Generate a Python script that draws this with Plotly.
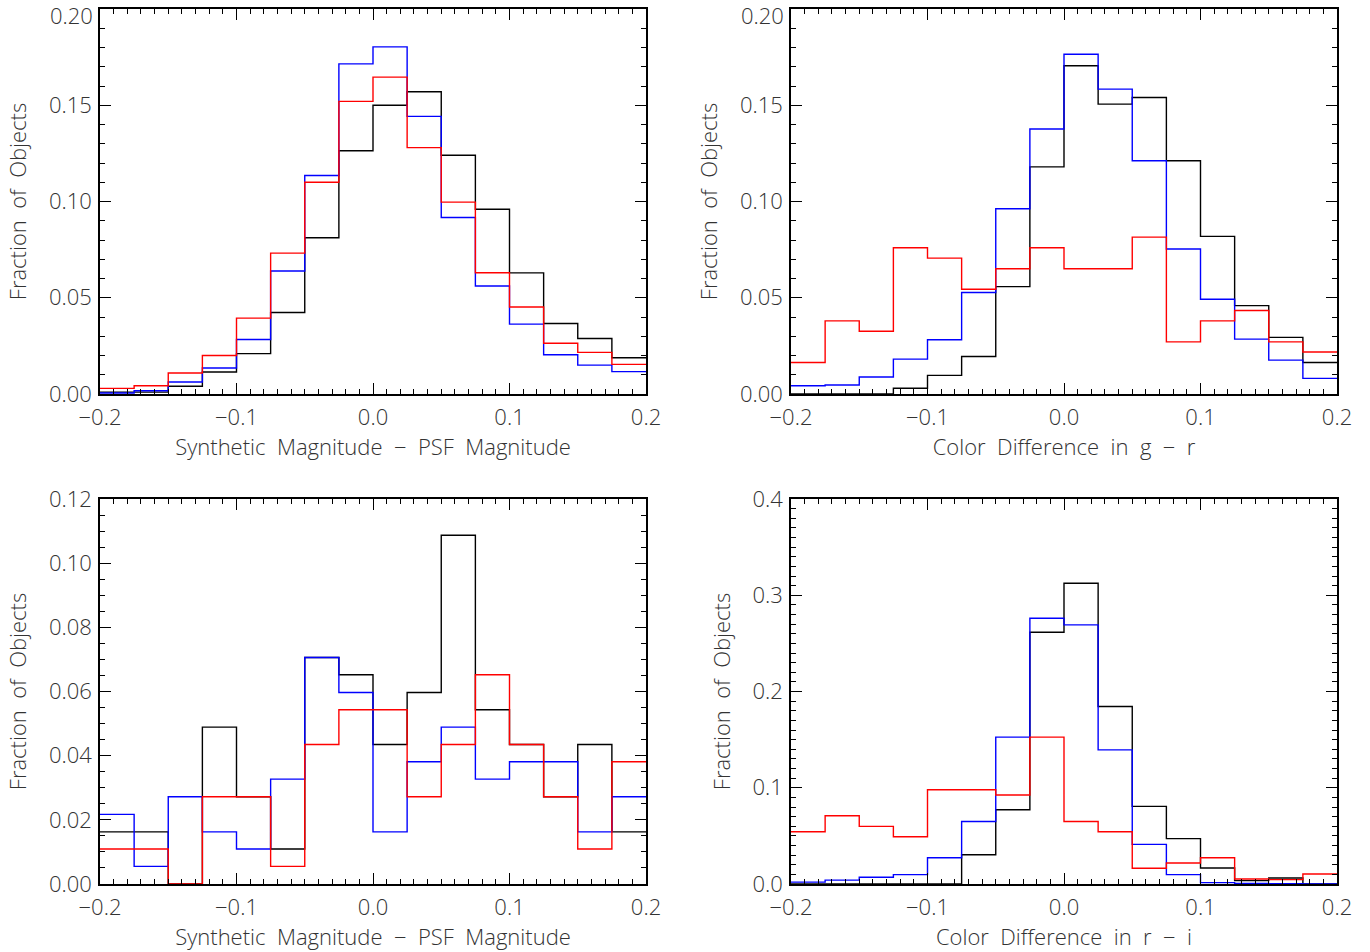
import plotly.graph_objects as go

# bin edges (width 0.025) shared by all panels
bin_edges = [-0.2, -0.175, -0.15, -0.125, -0.1, -0.075, -0.05, -0.025, 0.0,
             0.025, 0.05, 0.075, 0.1, 0.125, 0.15, 0.175, 0.2]

# Panel 1: Synthetic Magnitude - PSF Magnitude (top-left)
p1_black = [0.001, 0.001, 0.004, 0.0114, 0.021, 0.0423, 0.0812, 0.1264,
            0.150, 0.157, 0.124, 0.096, 0.0629, 0.0366, 0.0288, 0.0188]
p1_blue = [0.0005, 0.0017, 0.0062, 0.0135, 0.0283, 0.0639, 0.1135, 0.1715,
           0.1803, 0.1442, 0.0917, 0.0561, 0.0363, 0.0204, 0.015, 0.0116]
p1_red = [0.0029, 0.0043, 0.0109, 0.020, 0.0394, 0.0732, 0.110, 0.152,
          0.1646, 0.128, 0.0997, 0.063, 0.0452, 0.0264, 0.0216, 0.0154]

# Panel 2: Color Difference in g - r (top-right)
p2_black = [0.0, 0.0, 0.0, 0.003, 0.0097, 0.0195, 0.0558, 0.118,
            0.1705, 0.1506, 0.154, 0.1212, 0.0819, 0.0459, 0.0294, 0.0164]
p2_blue = [0.0043, 0.0047, 0.0088, 0.0181, 0.0282, 0.0527, 0.0962, 0.1377,
           0.1765, 0.1584, 0.1212, 0.0753, 0.0492, 0.0285, 0.0176, 0.0081]
p2_red = [0.0164, 0.038, 0.0326, 0.076, 0.0706, 0.0544, 0.0651, 0.076,
          0.0651, 0.0651, 0.0815, 0.0271, 0.038, 0.0434, 0.0271, 0.0218]

# Panel 3: Synthetic Magnitude - PSF Magnitude (bottom-left)
p3_black = [0.01625, 0.01625, 0.0, 0.0489, 0.0272, 0.0109, 0.0706, 0.0652,
            0.0435, 0.0597, 0.1087, 0.0543, 0.0435, 0.0272, 0.0435, 0.01625]
p3_blue = [0.0217, 0.0055, 0.0272, 0.01625, 0.0109, 0.0327, 0.0706, 0.0597,
           0.01625, 0.0381, 0.0489, 0.0327, 0.0381, 0.0381, 0.01625, 0.0272]
p3_red = [0.0109, 0.0109, 0.0, 0.0272, 0.0272, 0.0055, 0.0435, 0.0543,
          0.0543, 0.0272, 0.0435, 0.0652, 0.0435, 0.0272, 0.0109, 0.0381]

# Panel 4: Color Difference in r - i (bottom-right)
p4_black = [0.0, 0.0, 0.0, 0.0, 0.0, 0.0304, 0.0772, 0.2616,
            0.3125, 0.1844, 0.0806, 0.0471, 0.0166, 0.0035, 0.0062, 0.0]
p4_blue = [0.002, 0.004, 0.007, 0.0097, 0.0273, 0.065, 0.1526, 0.2761,
           0.2692, 0.1394, 0.0412, 0.0097, 0.0014, 0.0007, 0.0003, 0.0]
p4_red = [0.0543, 0.0709, 0.0599, 0.0491, 0.0979, 0.0979, 0.0924, 0.1526,
          0.065, 0.0543, 0.0163, 0.0218, 0.0273, 0.0052, 0.0045, 0.0104]

x_ticks = [-0.2, -0.1, 0.0, 0.1, 0.2]
y_ticks_a = [0.0, 0.05, 0.10, 0.15, 0.20]
y_labels_a = ["0.00", "0.05", "0.10", "0.15", ""]   # top label placed below
y_ticks_b = [0.0, 0.02, 0.04, 0.06, 0.08, 0.10, 0.12]
y_labels_b = ["0.00", "0.02", "0.04", "0.06", "0.08", "0.10", "0.12"]
y_ticks_c = [0.0, 0.1, 0.2, 0.3, 0.4]
y_labels_c = ["0.0", "0.1", "0.2", "0.3", "0.4"]
top_label_a = "0.20"

x_titles = ["Synthetic  Magnitude  \u2212  PSF  Magnitude",
            "Color  Difference  in  g  \u2212  r",
            "Synthetic  Magnitude  \u2212  PSF  Magnitude",
            "Color  Difference  in  r  \u2212  i"]
y_title = "Fraction  of  Objects"

panels = [
    (p1_black, p1_blue, p1_red),
    (p2_black, p2_blue, p2_red),
    (p3_black, p3_blue, p3_red),
    (p4_black, p4_blue, p4_red),
]
y_ranges = [[0, 0.2], [0, 0.2], [0, 0.12], [0, 0.4]]
y_tickvals = [y_ticks_a, y_ticks_a, y_ticks_b, y_ticks_c]
y_ticktext = [y_labels_a, y_labels_a, y_labels_b, y_labels_c]
y_minor = [0.01, 0.01, 0.005, 0.01]

W, H = 1370, 952


def xd(a, b):
    return [a / W, b / W]


def yd(top, bot):
    return [1 - bot / H, 1 - top / H]


x_domains = [xd(100, 646), xd(791, 1337), xd(100, 646), xd(791, 1337)]
y_domains = [yd(9, 394), yd(9, 394), yd(499, 884), yd(499, 884)]

FONT = "Open Sans"
TXT = "#333333"
colors = ["#000000", "#0000ff", "#ff0000"]
tick_font = dict(family=FONT, size=22, color=TXT, weight=300)

fig = go.Figure()
layout = {}
annotations = []
for i, series in enumerate(panels):
    n = "" if i == 0 else str(i + 1)
    for vals, col in zip(series, colors):
        fig.add_trace(go.Scatter(
            x=bin_edges, y=list(vals) + [vals[-1]],
            mode="lines", line=dict(color=col, width=1.4, shape="hv"),
            xaxis="x" + n, yaxis="y" + n, showlegend=False,
            hoverinfo="skip"))
    layout["xaxis" + n] = dict(
        domain=x_domains[i], range=[-0.2, 0.2], anchor="y" + n,
        tickvals=x_ticks, tickformat=".1f",
        ticks="inside", ticklen=11, tickwidth=1.3, tickcolor="#000",
        ticklabelstandoff=3, ticklabeloverflow="allow",
        minor=dict(dtick=0.01, tick0=0, ticks="inside", ticklen=5,
                   tickwidth=1.2, tickcolor="#000", showgrid=False),
        showline=True, linecolor="#000", linewidth=1.6, mirror="allticks",
        showgrid=False, zeroline=False, automargin=False,
        tickfont=tick_font,
        title=dict(text=x_titles[i], standoff=3,
                   font=dict(family=FONT, size=22, color=TXT, weight=300)),
    )
    layout["yaxis" + n] = dict(
        domain=y_domains[i], range=y_ranges[i], anchor="x" + n,
        tickvals=y_tickvals[i], ticktext=y_ticktext[i],
        ticks="inside", ticklen=11, tickwidth=1.3, tickcolor="#000",
        ticklabelstandoff=2, ticklabeloverflow="allow",
        minor=dict(dtick=y_minor[i], tick0=0, ticks="inside", ticklen=5,
                   tickwidth=1.2, tickcolor="#000", showgrid=False),
        showline=True, linecolor="#000", linewidth=1.6, mirror="allticks",
        showgrid=False, zeroline=False, automargin=False,
        tickfont=tick_font,
        title=dict(text=y_title, standoff=16,
                   font=dict(family=FONT, size=22, color=TXT, weight=300)),
    )
    if i < 2:
        annotations.append(dict(
            text=top_label_a, xref="x" + n + " domain", yref="y" + n,
            x=0, y=y_ranges[i][1], xanchor="right", yanchor="middle",
            xshift=-5, yshift=-6, showarrow=False, font=tick_font))

fig.update_layout(
    width=W, height=H,
    margin=dict(l=0, r=0, t=0, b=0),
    paper_bgcolor="white", plot_bgcolor="white",
    annotations=annotations,
    **layout,
)
fig.write_html(
    "out.html",
    config={"displayModeBar": False},
    post_script="document.body.style.margin='0';"
                "document.body.style.overflow='hidden';",
)
